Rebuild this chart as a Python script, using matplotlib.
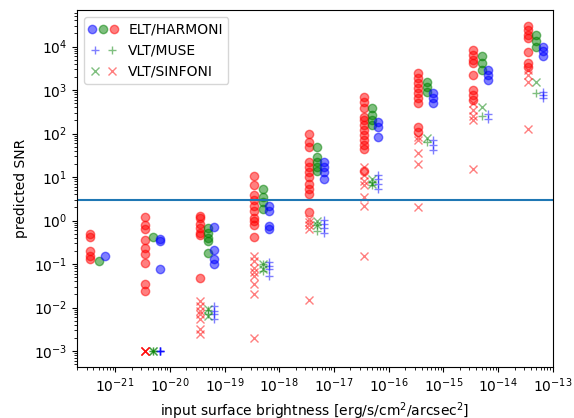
import matplotlib
matplotlib.use('Agg')
import matplotlib.pyplot as plt
from matplotlib.legend_handler import HandlerTuple
import numpy as np

# input surface brightness per group [erg/s/cm2/arcsec2]
surface_brightness = [5e-22, 5e-21, 5e-20, 5e-19, 5e-18, 5e-17, 5e-16, 5e-15, 5e-14]

# ELT/HARMONI (circles)
harmoni_red = [
    [0.5, 0.42, 0.2, 0.155, 0.13],
    [1.2, 0.8, 0.65, 0.35, 0.24, 0.17, 0.107, 0.035, 0.024],
    [1.3, 1.17, 0.85, 0.69, 0.53, 0.47, 0.047],
    [10.4, 6.4, 3.8, 2.9, 2.2, 1.7, 1.15, 1.0, 0.77, 0.41],
    [100, 64, 49, 22, 17, 13, 10, 7.0, 5.4, 4.1, 1.55],
    [700, 540, 380, 245, 204, 156, 120, 92, 70, 54, 45, 14],
    [2450, 1870, 1440, 1100, 845, 645, 495, 142, 110],
    [8450, 6450, 4950, 4150, 2230, 1000, 770, 590],
    [29000, 24500, 18700, 15700, 7300, 4150, 3450],
]
harmoni_green = [
    [0.12],
    [0.41],
    [0.69, 0.53, 0.4, 0.33, 0.18],
    [5.4, 3.45, 2.65, 1.86],
    [49, 29, 22, 17, 14],
    [380, 265, 204, 156],
    [1560, 1200, 920],
    [5950, 4150, 2900],
    [18700, 13200, 10000],
]
harmoni_blue = [
    [0.15],
    [0.38, 0.33, 0.077],
    [0.70, 0.21, 0.13, 0.10],
    [2.2, 1.64, 0.73, 0.65],
    [22, 17, 13, 9.2],
    [186, 142, 84],
    [845, 645, 495],
    [2900, 2230, 1720],
    [10000, 7700, 5950],
]

# VLT/MUSE (plus)
muse_green = [
    [],
    [0.001, 0.001],
    [0.009, 0.007],
    [0.1, 0.07],
    [0.77, 0.59],
    [7.7, 6.4],
    [64],
    [250],
    [845],
]
muse_blue = [
    [],
    [0.001, 0.001, 0.001, 0.001],
    [0.011, 0.0085, 0.007, 0.0055],
    [0.11, 0.09, 0.077, 0.054],
    [1.04, 0.84, 0.68, 0.51],
    [11, 9.2, 7.0, 5.4],
    [70, 54, 41],
    [280, 220],
    [920, 770, 650],
]

# VLT/SINFONI (x)
sinfoni_green = [
    [],
    [0.001, 0.001],
    [0.0095, 0.0065],
    [0.1, 0.075],
    [1.0, 0.77],
    [9.2, 7.0],
    [77],
    [410],
    [1560],
]
sinfoni_red = [
    [],
    [0.001, 0.001, 0.001, 0.001],
    [0.014, 0.011, 0.0083, 0.0071, 0.0055, 0.0032, 0.0025],
    [0.156, 0.12, 0.083, 0.064, 0.054, 0.035, 0.02, 0.002],
    [1.1, 0.91, 0.77, 0.64, 0.015],
    [17, 11, 8, 6.4, 3.45, 2.2, 0.156],
    [84, 70, 35, 20, 2.0],
    [495, 345, 250, 205, 15.6],
    [2900, 2230, 1560, 130],
]

snr_threshold = 3


def flatten(groups, factor):
    xs, ys = [], []
    for sb, vals in zip(surface_brightness, groups):
        xs += [sb * factor] * len(vals)
        ys += list(vals)
    return np.array(xs), np.array(ys)


fig = plt.figure(figsize=(5.74, 4.18), dpi=100)
ax = fig.add_axes([0.134, 0.122, 0.829, 0.854])

off_red, off_green, off_blue = 0.7, 1.0, 1.3

h_hr, = ax.plot(*flatten(harmoni_red, off_red), 'o', color='r', alpha=0.5)
h_hg, = ax.plot(*flatten(harmoni_green, off_green), 'o', color='g', alpha=0.5)
h_hb, = ax.plot(*flatten(harmoni_blue, off_blue), 'o', color='b', alpha=0.5)
h_mb, = ax.plot(*flatten(muse_blue, off_blue), '+', color='b', alpha=0.5)
h_mg, = ax.plot(*flatten(muse_green, off_green), '+', color='g', alpha=0.5)
h_sg, = ax.plot(*flatten(sinfoni_green, off_green), 'x', color='g', alpha=0.5)
h_sr, = ax.plot(*flatten(sinfoni_red, off_red), 'x', color='r', alpha=0.5)

ax.axhline(snr_threshold)

ax.set_xscale('log')
ax.set_yscale('log')
ax.set_xlim(2e-22, 1e-13)
ax.set_ylim(4.3e-4, 6.9e4)

ax.set_xlabel('input surface brightness [erg/s/cm$^2$/arcsec$^2$]')
ax.set_ylabel('predicted SNR')

ax.legend([(h_hb, h_hg, h_hr), (h_mb, h_mg), (h_sg, h_sr)],
          ['ELT/HARMONI', 'VLT/MUSE', 'VLT/SINFONI'],
          handler_map={tuple: HandlerTuple(ndivide=None)},
          loc='upper left')

fig.savefig('out.png', dpi=100)
